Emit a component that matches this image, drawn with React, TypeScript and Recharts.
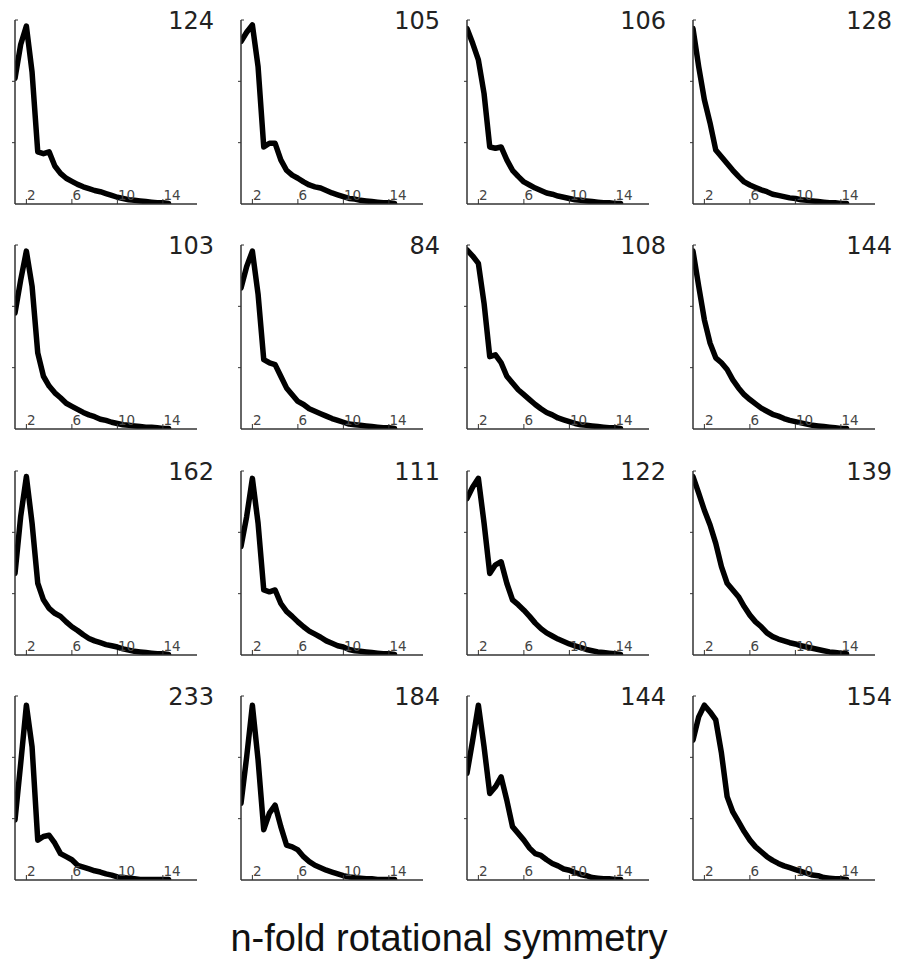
import React from "react";
import { LineChart, Line, XAxis, YAxis } from "recharts";

// n-fold values (x axis)
const N_VALUES = [1, 1.5, 2, 2.5, 3, 3.5, 4, 4.5, 5, 5.5, 6, 6.5, 7, 7.5, 8, 8.5, 9, 9.5, 10, 10.5, 11, 11.5, 12, 12.5, 13, 13.5, 14, 14.5];
const X_TICKS = [2, 6, 10, 14];
const Y_TICKS = [0, 1, 2, 3];
const PANEL_LABELS = ["124", "105", "106", "128", "103", "84", "108", "144", "162", "111", "122", "139", "233", "184", "144", "154"];
const TITLE = "n-fold rotational symmetry";

const S124 = [2.05, 2.6, 2.9, 2.15, 0.85, 0.82, 0.85, 0.62, 0.5, 0.42, 0.37, 0.32, 0.28, 0.25, 0.22, 0.2, 0.17, 0.14, 0.11, 0.09, 0.07, 0.06, 0.05, 0.04, 0.03, 0.02, 0.02, 0.01];
const S105 = [2.65, 2.8, 2.92, 2.24, 0.93, 0.99, 0.99, 0.72, 0.55, 0.47, 0.42, 0.36, 0.31, 0.28, 0.26, 0.22, 0.18, 0.15, 0.12, 0.09, 0.08, 0.06, 0.05, 0.04, 0.03, 0.02, 0.02, 0.01];
const S106 = [2.86, 2.62, 2.35, 1.8, 0.93, 0.91, 0.93, 0.72, 0.55, 0.45, 0.36, 0.31, 0.26, 0.22, 0.18, 0.16, 0.13, 0.11, 0.09, 0.07, 0.06, 0.05, 0.04, 0.03, 0.02, 0.02, 0.01, 0.01];
const S128 = [2.86, 2.24, 1.7, 1.32, 0.88, 0.77, 0.66, 0.55, 0.45, 0.36, 0.31, 0.27, 0.23, 0.2, 0.16, 0.14, 0.12, 0.1, 0.09, 0.07, 0.06, 0.05, 0.04, 0.03, 0.02, 0.02, 0.01, 0.01];
const S103 = [1.89, 2.43, 2.9, 2.33, 1.24, 0.86, 0.7, 0.59, 0.51, 0.42, 0.37, 0.32, 0.27, 0.23, 0.2, 0.16, 0.14, 0.11, 0.09, 0.07, 0.06, 0.05, 0.04, 0.03, 0.03, 0.02, 0.01, 0.01];
const S84 = [2.3, 2.65, 2.9, 2.2, 1.13, 1.08, 1.05, 0.86, 0.67, 0.56, 0.45, 0.4, 0.33, 0.29, 0.25, 0.21, 0.17, 0.14, 0.11, 0.08, 0.07, 0.06, 0.05, 0.04, 0.03, 0.02, 0.02, 0.01];
const S108 = [2.92, 2.82, 2.7, 2.05, 1.18, 1.21, 1.08, 0.86, 0.75, 0.64, 0.56, 0.48, 0.4, 0.33, 0.27, 0.23, 0.18, 0.15, 0.12, 0.09, 0.07, 0.06, 0.05, 0.04, 0.03, 0.02, 0.02, 0.01];
const S144A = [2.9, 2.33, 1.78, 1.4, 1.16, 1.08, 0.97, 0.8, 0.67, 0.56, 0.48, 0.41, 0.34, 0.29, 0.24, 0.21, 0.17, 0.14, 0.12, 0.1, 0.08, 0.06, 0.05, 0.04, 0.03, 0.02, 0.01, 0.01];
const S162 = [1.33, 2.26, 2.91, 2.15, 1.17, 0.9, 0.76, 0.68, 0.63, 0.54, 0.46, 0.4, 0.33, 0.27, 0.23, 0.2, 0.17, 0.15, 0.13, 0.1, 0.08, 0.06, 0.05, 0.04, 0.03, 0.02, 0.02, 0.01];
const S111 = [1.77, 2.26, 2.88, 2.15, 1.06, 1.03, 1.06, 0.84, 0.71, 0.63, 0.54, 0.46, 0.39, 0.34, 0.29, 0.23, 0.19, 0.15, 0.13, 0.09, 0.07, 0.06, 0.05, 0.04, 0.03, 0.02, 0.02, 0.01];
const S122 = [2.55, 2.74, 2.88, 2.15, 1.33, 1.47, 1.52, 1.17, 0.9, 0.82, 0.73, 0.63, 0.52, 0.43, 0.36, 0.31, 0.26, 0.22, 0.18, 0.15, 0.12, 0.09, 0.07, 0.05, 0.04, 0.03, 0.02, 0.01];
const S139 = [2.91, 2.64, 2.36, 2.12, 1.82, 1.44, 1.17, 1.06, 0.95, 0.79, 0.65, 0.54, 0.46, 0.36, 0.3, 0.26, 0.23, 0.2, 0.18, 0.15, 0.13, 0.11, 0.09, 0.07, 0.05, 0.04, 0.03, 0.02];
const S233 = [0.98, 1.9, 2.85, 2.17, 0.65, 0.71, 0.73, 0.6, 0.43, 0.38, 0.33, 0.24, 0.21, 0.18, 0.15, 0.13, 0.1, 0.08, 0.05, 0.04, 0.03, 0.02, 0.01, 0.01, 0.01, 0.01, 0.01, 0.01];
const S184 = [1.25, 2.01, 2.85, 1.96, 0.82, 1.09, 1.22, 0.87, 0.57, 0.54, 0.49, 0.38, 0.3, 0.24, 0.2, 0.16, 0.13, 0.1, 0.07, 0.05, 0.04, 0.03, 0.02, 0.02, 0.01, 0.01, 0.01, 0.01];
const S144B = [1.74, 2.28, 2.85, 2.17, 1.41, 1.52, 1.68, 1.3, 0.87, 0.76, 0.65, 0.52, 0.43, 0.4, 0.33, 0.27, 0.23, 0.18, 0.16, 0.12, 0.09, 0.07, 0.04, 0.03, 0.02, 0.02, 0.01, 0.01];
const S154 = [2.28, 2.66, 2.85, 2.74, 2.61, 2.07, 1.36, 1.11, 0.95, 0.79, 0.65, 0.54, 0.46, 0.38, 0.32, 0.27, 0.23, 0.2, 0.17, 0.14, 0.11, 0.08, 0.07, 0.04, 0.03, 0.02, 0.02, 0.01];

const PANEL_SERIES = [S124, S105, S106, S128, S103, S84, S108, S144A, S162, S111, S122, S139, S233, S184, S144B, S154];

// layout
const CHART_W = 220;
const CHART_H = 225;
const COL_X = [0, 226, 452, 678];
const ROW_Y = [0, 225, 451, 676];
const MARGIN = { top: 20, right: 23, bottom: 0, left: 0 };

function XTick(props: any) {
  const { x, y, payload } = props;
  return (
    <g>
      <line x1={x} y1={y} x2={x} y2={y - 5} stroke="#333" strokeWidth={1} />
      <text x={x + 0.5} y={y - 4} fontSize={13.5} fill="#444" fontFamily="DejaVu Sans" textAnchor="start">
        {payload.value}
      </text>
    </g>
  );
}

function YTick(props: any) {
  const { x, y, payload } = props;
  if (payload.value === 0) return <g />;
  if (payload.value === 3) {
    return <line x1={x} x2={x + 3} y1={y} y2={y} stroke="#333" strokeWidth={1} />;
  }
  return <line x1={x - 3} x2={x} y1={y} y2={y} stroke="#333" strokeWidth={1} />;
}

function Panel({ series }: { series: number[] }) {
  const data = N_VALUES.map((n, i) => ({ n, v: series[i] }));
  return (
    <LineChart width={CHART_W} height={CHART_H} data={data} margin={MARGIN}>
      <XAxis
        dataKey="n"
        type="number"
        domain={[1, 17]}
        ticks={X_TICKS}
        height={21}
        tickSize={0}
        tickMargin={0}
        tickLine={false}
        axisLine={{ stroke: "#333", strokeWidth: 1.5 }}
        tick={<XTick />}
        interval={0}
        allowDataOverflow
      />
      <YAxis
        type="number"
        domain={[0, 3]}
        ticks={Y_TICKS}
        width={15}
        tickSize={0}
        tickMargin={0}
        tickLine={false}
        axisLine={{ stroke: "#333", strokeWidth: 1.5 }}
        tick={<YTick />}
        interval={0}
        allowDataOverflow
      />
      <Line
        dataKey="v"
        type="linear"
        stroke="#000"
        strokeWidth={5.5}
        strokeLinejoin="round"
        strokeLinecap="round"
        dot={false}
        isAnimationActive={false}
      />
    </LineChart>
  );
}

export default function App() {
  return (
    <div
      style={{
        position: "absolute",
        left: 0,
        top: 0,
        width: 898,
        height: 968,
        background: "#fff",
        overflow: "hidden",
      }}
    >
      {PANEL_SERIES.map((s, i) => {
        const c = i % 4;
        const r = Math.floor(i / 4);
        return (
          <div key={i} style={{ position: "absolute", left: COL_X[c], top: ROW_Y[r] }}>
            <Panel series={s} />
          </div>
        );
      })}
      <svg
        width={898}
        height={968}
        style={{ position: "absolute", left: 0, top: 0, pointerEvents: "none" }}
      >
        {PANEL_LABELS.map((lab, i) => {
          const c = i % 4;
          const r = Math.floor(i / 4);
          return (
            <text
              key={i}
              x={COL_X[c] + 15 + 199}
              y={ROW_Y[r] + 29}
              textAnchor="end"
              fontSize={24}
              fontFamily="DejaVu Sans"
              fill="#222"
            >
              {lab}
            </text>
          );
        })}
        <text x={449} y={951} textAnchor="middle" fontSize={38} fontFamily="Liberation Sans" fill="#111">
          {TITLE}
        </text>
      </svg>
    </div>
  );
}
